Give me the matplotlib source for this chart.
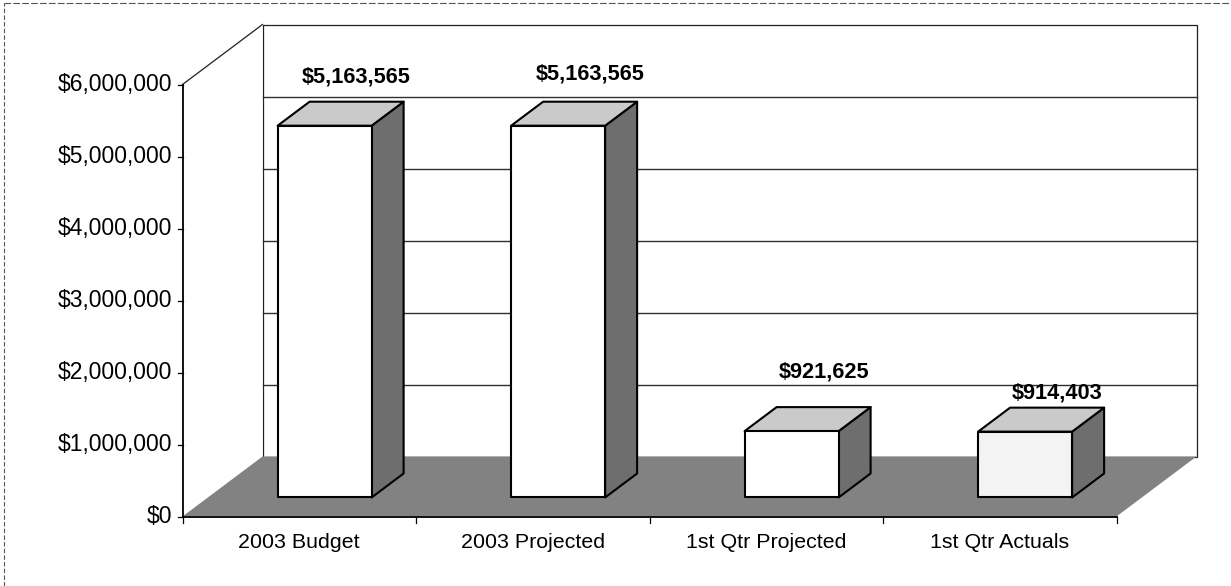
"""Budget vs. actuals, drawn as an oblique 3-D column chart."""

import matplotlib

matplotlib.use("Agg")
import matplotlib.pyplot as plt
from matplotlib.lines import Line2D
from matplotlib.patches import Polygon

plt.rcParams["font.family"] = ["Liberation Sans", "DejaVu Sans"]

categories = ["2003 Budget", "2003 Projected", "1st Qtr Projected", "1st Qtr Actuals"]
values = [5163565, 5163565, 921625, 914403]
y_ticks = [0, 1000000, 2000000, 3000000, 4000000, 5000000, 6000000]
label_lift_px = [25, 28, 35, 15]

# pixel scale of the plot (figure is 1231 x 586 at dpi 100)
W, H = 1231, 586
PX_CAT = 233.5          # pixels per category
PX_VAL = 72.0 / 1e6     # pixels per dollar
X0_PX, Y0_PX = 182.5, 69.5   # front-left floor corner, from bottom-left

# depth of the box, in data units
DX = 80.0 / PX_CAT
DY = 60.0 / PX_VAL
BAR_FRONT, BAR_BACK = 0.317, 0.717
HALF_W = 94.0 / PX_CAT / 2

TOP = y_ticks[-1]
LEFT, RIGHT = -0.5, len(categories) - 0.5


def at(x, y, d):
    return (x + d * DX, y + d * DY)


fig = plt.figure(figsize=(W / 100, H / 100), dpi=100)
ax = fig.add_axes([0, 0, 1, 1])
ax.set_xlim(LEFT - X0_PX / PX_CAT, LEFT + (W - X0_PX) / PX_CAT)
ax.set_ylim(-Y0_PX / PX_VAL, (H - Y0_PX) / PX_VAL)
ax.axis("off")

# back wall and left wall
ax.add_patch(Polygon([at(LEFT, 0, 1), at(RIGHT, 0, 1), at(RIGHT, TOP, 1), at(LEFT, TOP, 1)],
                     closed=True, facecolor="white", edgecolor="#202020", lw=0.9, zorder=1))
ax.add_patch(Polygon([at(LEFT, 0, 0), at(LEFT, 0, 1), at(LEFT, TOP, 1), at(LEFT, TOP, 0)],
                     closed=True, facecolor="white", edgecolor="none", zorder=1))
ax.plot(*zip(at(LEFT, TOP, 0), at(LEFT, TOP, 1)), color="#202020", lw=0.9, zorder=2)

# gridlines on the back wall
for v in y_ticks[1:-1]:
    ax.plot(*zip(at(LEFT, v, 1), at(RIGHT, v, 1)), color="#303030", lw=1.0, zorder=2)

# floor
ax.add_patch(Polygon([at(LEFT, 0, 0), at(RIGHT, 0, 0), at(RIGHT, 0, 1), at(LEFT, 0, 1)],
                     closed=True, facecolor="#828282", edgecolor="none", zorder=3))

# value axis
ax.plot([LEFT, LEFT], [0, TOP], color="black", lw=1.3, zorder=6)
tick_len = 5.0 / PX_CAT
for v in y_ticks:
    ax.plot([LEFT - tick_len, LEFT], [v, v], color="black", lw=0.9, zorder=6)
    ax.text(LEFT - 10.0 / PX_CAT, v, f"${v:,.0f}", ha="right", va="center", fontsize=16.5)

# category axis
ax.plot([LEFT, RIGHT], [0, 0], color="black", lw=1.3, zorder=6)
for i in range(len(categories) + 1):
    ax.plot([LEFT + i, LEFT + i], [0, -6.0 / PX_VAL], color="black", lw=0.9, zorder=6)
for i, name in enumerate(categories):
    ax.text(i, -26.0 / PX_VAL, name, ha="center", va="center", fontsize=15.4)

# columns
front_fill = ["white", "white", "white", "#f3f3f3"]
for i, (v, lift) in enumerate(zip(values, label_lift_px)):
    l, r = i - HALF_W, i + HALF_W
    side = [at(r, 0, BAR_FRONT), at(r, 0, BAR_BACK), at(r, v, BAR_BACK), at(r, v, BAR_FRONT)]
    top = [at(l, v, BAR_FRONT), at(r, v, BAR_FRONT), at(r, v, BAR_BACK), at(l, v, BAR_BACK)]
    front = [at(l, 0, BAR_FRONT), at(r, 0, BAR_FRONT), at(r, v, BAR_FRONT), at(l, v, BAR_FRONT)]
    ax.add_patch(Polygon(side, closed=True, facecolor="#6e6e6e", edgecolor="black",
                         lw=1.5, joinstyle="round", zorder=7))
    ax.add_patch(Polygon(top, closed=True, facecolor="#cacaca", edgecolor="black",
                         lw=1.5, joinstyle="round", zorder=7))
    ax.add_patch(Polygon(front, closed=True, facecolor=front_fill[i], edgecolor="black",
                         lw=1.5, joinstyle="round", zorder=8))
    lx, ly = at(i, v, BAR_BACK)
    ax.text(lx, ly + lift / PX_VAL, f"${v:,.0f}", ha="center", va="center",
            fontsize=15.7, fontweight="bold", zorder=9)

# outer chart frame
fig.add_artist(Line2D([0.003, 0.003], [0, 0.995], transform=fig.transFigure,
                      color="#555555", lw=0.8, ls=(0, (4, 2))))
fig.add_artist(Line2D([0.003, 1.0], [0.995, 0.995], transform=fig.transFigure,
                      color="#555555", lw=0.8, ls=(0, (6, 2))))

fig.savefig("out.png", dpi=100)
